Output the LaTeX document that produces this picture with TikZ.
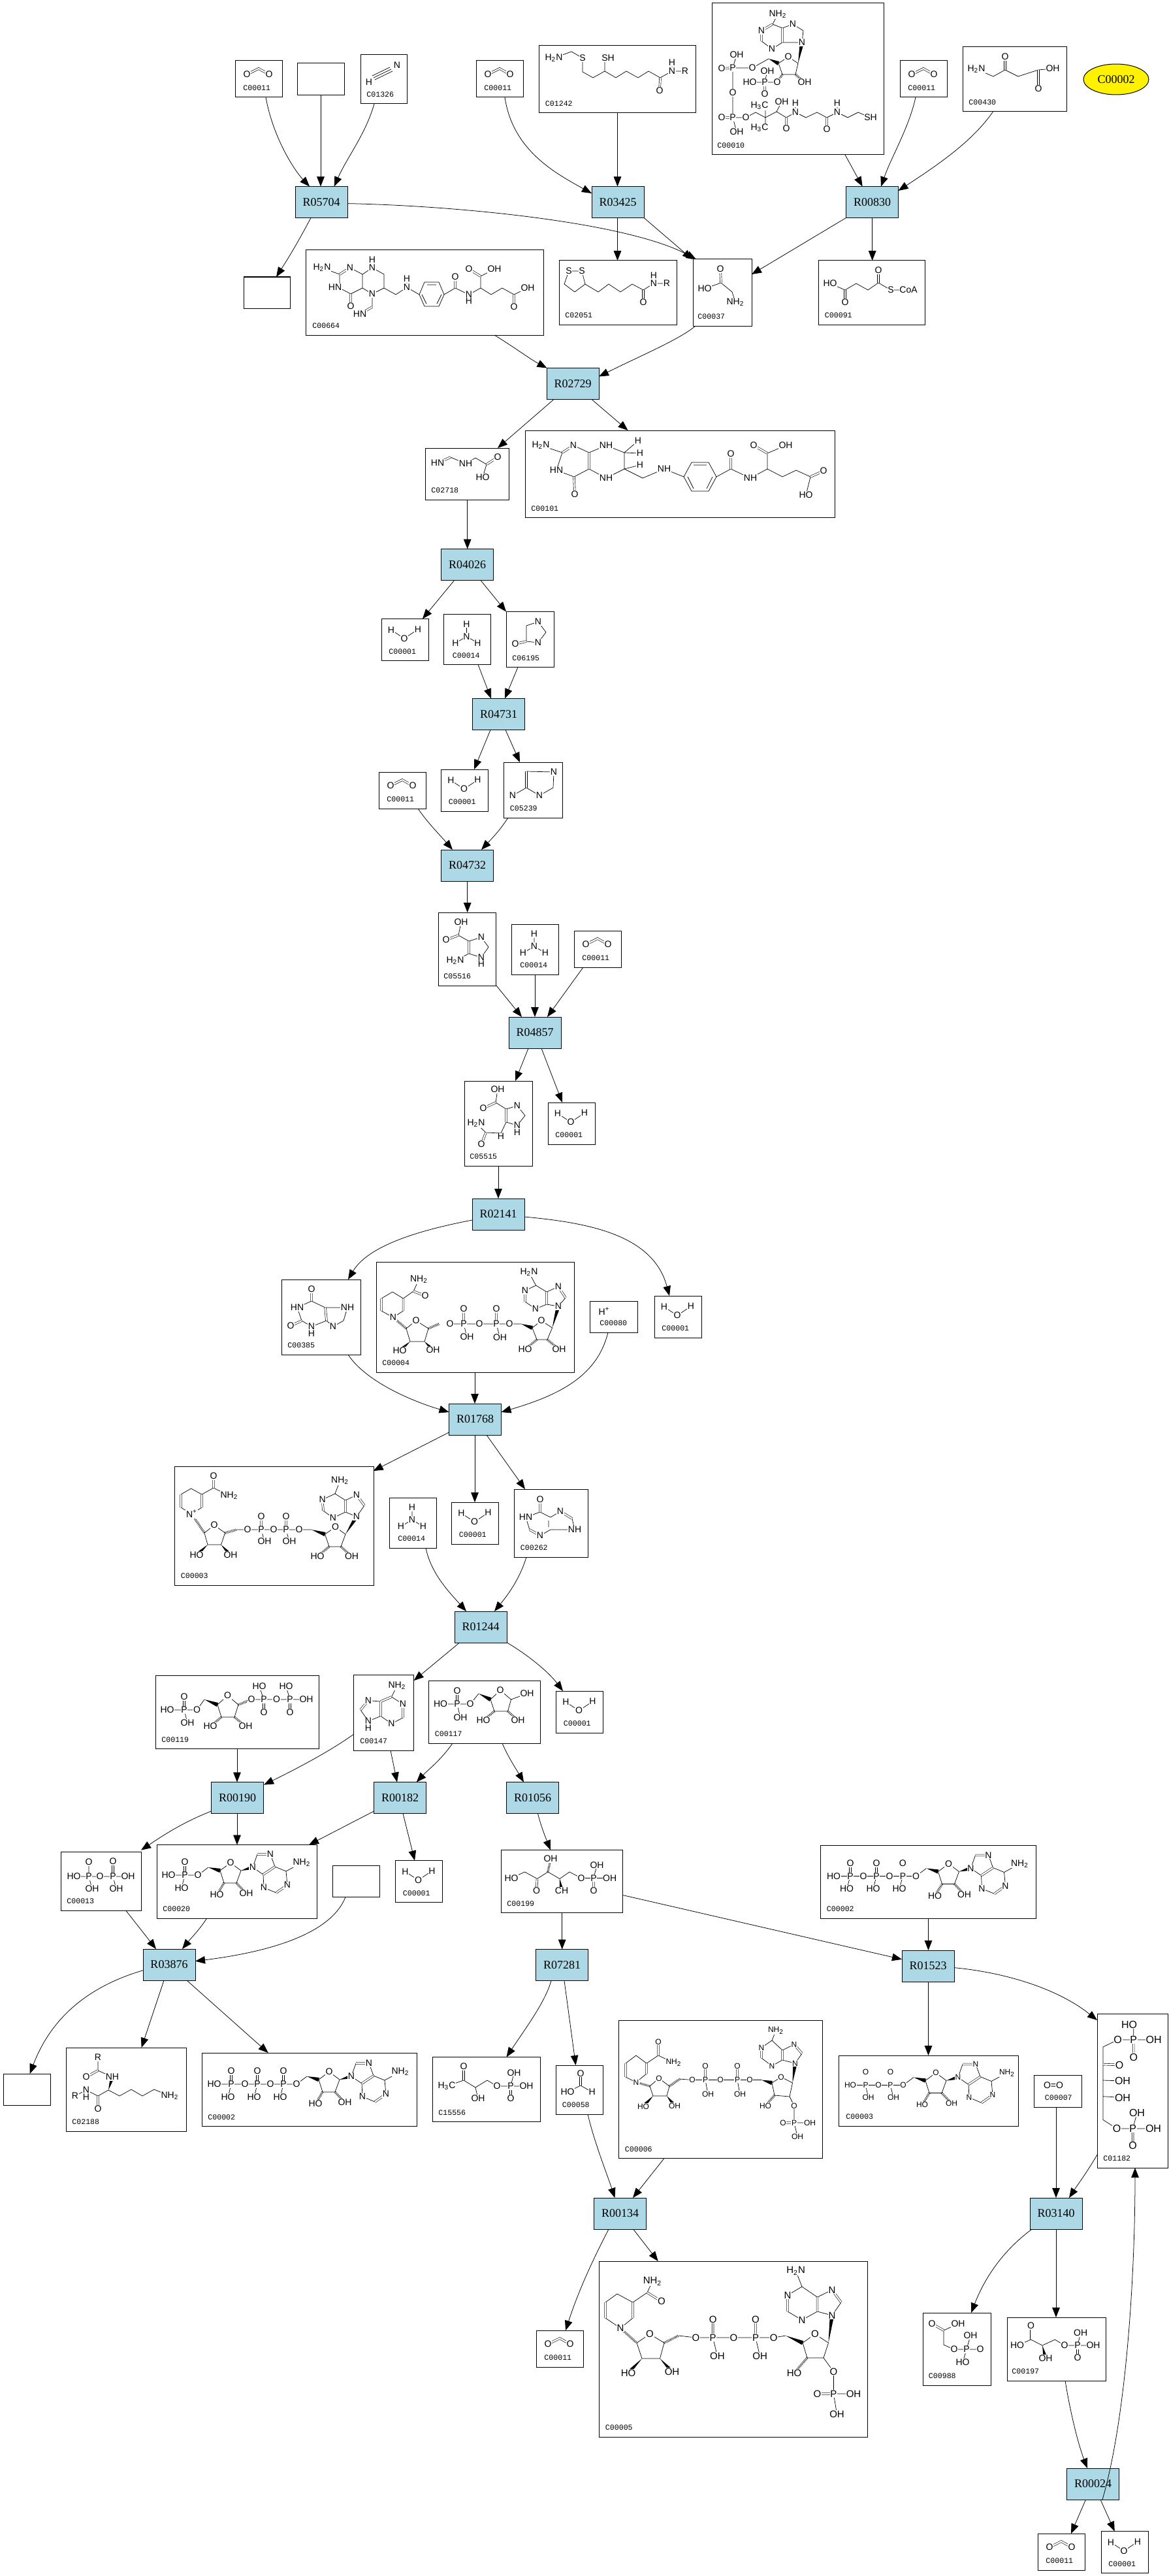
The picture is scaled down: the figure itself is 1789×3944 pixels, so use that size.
\documentclass[tikz,border=0pt]{standalone}
\usepackage{fontspec}
\setmainfont{Liberation Serif}
\setsansfont{Liberation Sans}
\setmonofont{Liberation Mono}
\usetikzlibrary{calc,arrows.meta,shapes.geometric}
\definecolor{rxblue}{HTML}{ADD8E6}
\newcommand\fs[1]{\fontsize{#1}{#1}\selectfont}
\newcommand\two{\textsubscript{2}}
\newcommand\three{\textsubscript{3}}
\newcount\atc
\tikzset{
 cmp/.style={draw=black,line width=.5pt,fill=white,rectangle,inner sep=0pt,outer sep=0pt},
 rxn/.style={draw=black,line width=.5pt,fill=rxblue,rectangle,inner sep=0pt,outer sep=0pt,minimum width=40pt,minimum height=24pt,font=\rmfamily\fs{9}},
 lab/.style={anchor=west,inner sep=0pt,font=\ttfamily\fs{5.8}},
 atom/.style={inner sep=.35pt,fill=white,font=\sffamily\fs{7}},
 bond/.style={draw=black,line width=.35pt},
 dbl/.style={draw=black,line width=.3pt,double=white,double distance=1.1pt},
 hashb/.style={draw=black,line width=1.8pt,dash pattern=on .35pt off .7pt},
 arr/.style={draw=black,line width=.38pt,-{Triangle[length=7.5pt,width=5.8pt]}},
}
\newcommand\A{}
\def\A(#1,#2)#3{\global\advance\atc by 1\relax\node[atom] (at\the\atc) at (#1,#2) {#3};}
\newcommand\W[2]{\fill[black] (#1) -- ($(#2)!1.6pt!90:(#1)$) -- ($(#2)!1.6pt!-90:(#1)$) -- cycle;}
\newcommand\Hs[2]{\draw[hashb] (#1)--(#2);}
\newcommand\rawbox[5]{%
 \pgfmathsetmacro\cw{(#4-(#2))*.5}\pgfmathsetmacro\ch{(#5-(#3))*.5}%
 \pgfmathsetmacro\cx{(#2+#4)/2}\pgfmathsetmacro\cy{(#3+#5)/2}%
 \node[cmp,minimum width=\cw pt,minimum height=\ch pt] (#1) at (\cx,\cy) {};}
\newcommand\cbox[7][9]{%
 \rawbox{#2}{#3}{#4}{#5}{#6}%
 \pgfmathsetmacro\lx{#3+#1}\pgfmathsetmacro\ly{#6-14}%
 \node[lab] (#2-l) at (\lx,\ly) {#7};}
\newcommand\rn[3]{\node[rxn] (#1) at (#2,#3) {#1};}
\newcommand\water[3]{%
 \pgfmathsetmacro\wx{#2+72}\pgfmathsetmacro\wy{#3+64}%
 \cbox[11]{#1}{#2}{#3}{\wx}{\wy}{C00001}%
 \begin{scope}[shift={(#2,#3)}]
 \draw[bond] (15,17)--(35,30)--(56,16);
 \A(15,17){H}\A(35,30){O}\A(56,16){H}
 \end{scope}}
\newcommand\cotwo[3]{%
 \pgfmathsetmacro\wx{#2+72}\pgfmathsetmacro\wy{#3+56}%
 \cbox[12]{#1}{#2}{#3}{\wx}{\wy}{C00011}%
 \begin{scope}[shift={(#2,#3)}]
 \draw[dbl] (18,21)--(36,12)--(52,21);
 \A(18,21){O}\A(52,21){O}
 \end{scope}}
\newcommand\ammonia[3]{%
 \pgfmathsetmacro\wx{#2+72}\pgfmathsetmacro\wy{#3+77}%
 \cbox[13]{#1}{#2}{#3}{\wx}{\wy}{C00014}%
 \begin{scope}[shift={(#2,#3)}]
 \draw[bond] (35,15)--(35,34) (18,44)--(35,34)--(52,44);
 \A(35,15){H}\A(35,34){N}\A(18,44){H}\A(52,44){H}
 \end{scope}}
\newcommand\ado[2]{%
 \begin{scope}[shift={(#1,#2)}]
 \draw[bond] (0,0)--(16,-12) (34,-7)--(50,-19)--(66,-7)--(59,12)--(40,12)--cycle;
 \W{16,-12}{34,-7}\W{66,-7}{84,-12}
 \Hs{40,12}{29,30}\Hs{59,12}{74,28}
 \draw[bond] (84,-12)--(91,-32) (111,-32)--(118,-13) (100,-1)--(84,-12) (118,-13)--(135,-6)--(137,15) (120,27)--(101,19) (101,19)--(100,-1) (135,-6)--(159,-19);
 \draw[dbl] (91,-32)--(111,-32) (118,-13)--(100,-1) (137,15)--(120,27);
 \A(0,0){O}\A(50,-19){O}\A(29,30){HO}\A(74,28){OH}\A(84,-12){N}\A(111,-32){N}\A(101,19){N}\A(137,15){N}\A(159,-19){NH\two}
 \end{scope}}
\begin{document}
\begin{tikzpicture}[x=.5pt,y=-.5pt]
\fill[white] (0,0) rectangle (1789,3944);
\useasboundingbox (0,0) rectangle (1789,3944);
% ---------- top row
\cotwo{ca}{360}{93}
\rawbox{bka}{455}{97}{527}{145.5}
\cbox{cb}{552}{84}{623}{159}{C01326}
\draw[bond] (599,106)--(572,119) (601,109)--(574,122) (597,103)--(570,116);
\A(608,100){N}\A(565,126){H}
\cotwo{cc}{729}{93}
\cbox{cd}{825.5}{69.5}{1065.5}{173}{C01242}
\draw[bond] (848,89)--(875,79)--(892,89)--(892,110)--(908,119)--(926,109)--(943,119)--(959,109)--(977,119)--(993,109)--(1011,119)--(1029,109)--(1049,109) (926,109)--(926,89) (1029,109)--(1029,96);
\draw[dbl] (1011,119)--(1010,139);
\A(848,89){H\two N}\A(892,89){S}\A(931,89){SH}\A(1029,109){N}\A(1029,96){H}\A(1049,109){R}\A(1010,139){O}
\cbox[8]{ce}{1090}{5}{1353}{237}{C00010}
\draw[bond] (1191,22)--(1183,37)--(1166,47) (1166,63)--(1182,75) (1198,65)--(1182,75) (1198,43)--(1183,37) (1198,65)--(1228,65) (1214,37)--(1198,43) (1214,37)--(1230,47)--(1228,65) (1207,87)--(1192,97)--(1198,114)--(1218,114)--(1222,97)--cycle;
\draw[dbl] (1183,37)--(1166,47) (1166,63)--(1166,47) (1198,65)--(1198,43);
\W{1222,97}{1228,65}\W{1177,90}{1192,97}
\draw[bond] (1177,90)--(1152,104)--(1122,104)--(1128,84) (1122,104)--(1122,142)--(1122,180)--(1128,202) (1122,180)--(1142,180)--(1157,172)--(1172,180)--(1189,171)--(1197,156) (1172,180)--(1172,162) (1172,180)--(1172,196) (1189,171)--(1204,180)--(1218,172)--(1234,180)--(1251,172)--(1266,180)--(1282,172)--(1298,180)--(1314,172)--(1333,180) (1218,172)--(1218,158) (1282,172)--(1282,158) (1171,126)--(1190,126) (1148,126)--(1171,126)--(1175,109);
\draw[dbl] (1105,105)--(1122,104) (1105,180)--(1122,180) (1204,180)--(1204,197) (1266,180)--(1266,198) (1171,126)--(1171,144);
\Hs{1198,114}{1190,126}\Hs{1218,114}{1232,126}
\A(1191,22){NH\two}\A(1166,47){N}\A(1182,75){N}\A(1214,37){N}\A(1228,65){N}\A(1207,87){O}\A(1152,104){O}\A(1122,104){P}\A(1128,84){OH}\A(1105,105){O}\A(1122,142){O}\A(1122,180){P}\A(1105,180){O}\A(1128,202){OH}\A(1142,180){O}\A(1163,162){H\three C}\A(1163,196){H\three C}\A(1197,156){OH}\A(1204,197){O}\A(1218,172){N}\A(1218,158){H}\A(1266,198){O}\A(1282,172){N}\A(1282,158){H}\A(1333,180){SH}\A(1190,126){O}\A(1171,126){P}\A(1148,126){HO}\A(1175,109){OH}\A(1171,144){O}\A(1232,126){OH}
\cotwo{cf}{1378}{93}
\cbox{cg}{1474}{72}{1633}{171}{C00430}
\draw[bond] (1495,106)--(1521,117)--(1539,107)--(1559,117)--(1590,107)--(1612,105);
\draw[dbl] (1539,107)--(1539,87) (1590,107)--(1590,136);
\A(1495,106){H\two N}\A(1539,87){O}\A(1612,105){OH}\A(1590,136){O}
\node[ellipse,draw=black,line width=.5pt,fill=yellow,inner sep=0pt,minimum width=50pt,minimum height=23.5pt,font=\rmfamily\fs{9}] (ell) at (1709,121.5) {C00002};
% ---------- reactions
\rn{R05704}{492}{309.5}\rn{R03425}{946}{309.5}\rn{R00830}{1335.5}{309.5}\rn{R02729}{877}{587.5}\rn{R04026}{715.5}{864.5}\rn{R04731}{763.5}{1093.5}\rn{R04732}{715.5}{1325}\rn{R04857}{819}{1581}\rn{R02141}{763}{1859}\rn{R01768}{727.5}{2173}\rn{R01244}{736}{2491}\rn{R00190}{363.5}{2752.5}\rn{R00182}{612.5}{2752.5}\rn{R01056}{815.5}{2752.5}\rn{R03876}{259}{3008}\rn{R07281}{860.5}{3008.5}\rn{R01523}{1421}{3010}\rn{R00134}{949.5}{3389}\rn{R03140}{1617}{3389}\rn{R00024}{1673.5}{3803}
% ---------- second row
\rawbox{bkb}{373}{424}{444}{472.5}
\cbox[10]{ch}{468}{383}{832}{513}{C00664}
\draw[bond] (493,410)--(520,420) (520,420)--(520,441)--(537,450)--(555,441) (536,410)--(555,420)--(570,410)--(588,420)--(588,441)--(570,450)--(555,441)--(555,420) (570,450)--(570,470) (588,441)--(606,451)--(623,440)--(642,451)--(650,432)--(672,432)--(680,451)--(672,469)--(650,469)--(642,451) (680,451)--(697,441)--(718,451)--(736,441)--(736,423)--(757,412) (736,441)--(752,451)--(769,441)--(787,451)--(808,441) (623,440)--(623,427) (718,451)--(718,461);
\draw[dbl] (520,420)--(536,410) (537,450)--(537,469) (570,470)--(551,481) (697,441)--(697,424) (736,423)--(718,412) (787,451)--(787,470);
\draw[bond] (654,436)--(668,436) (676,451)--(669,465) (653,465)--(646,451);
\A(493,410){H\two N}\A(536,410){N}\A(570,410){N}\A(570,398){H}\A(570,450){N}\A(513,440){HN}\A(537,469){O}\A(551,481){HN}\A(623,440){N}\A(623,427){H}\A(697,424){O}\A(718,451){N}\A(718,461){H}\A(718,412){O}\A(757,412){OH}\A(808,441){OH}\A(787,470){O}
\cbox{ci}{856}{399}{1036}{497}{C02051}
\draw[bond] (871,415)--(891,415)--(896,435)--(880,447)--(864,435)--cycle (896,435)--(916,447)--(932,435)--(950,447)--(968,435)--(985,444)--(1001,434)--(1021,434) (1001,434)--(1001,422);
\draw[dbl] (985,444)--(985,463);
\A(871,415){S}\A(891,415){S}\A(1001,434){N}\A(1001,422){H}\A(1021,434){R}\A(985,463){O}
\cbox[7]{cj}{1061}{397}{1151}{499}{C00037}
\draw[bond] (1079,442)--(1104,433)--(1121,447)--(1126,463);
\draw[dbl] (1104,433)--(1103,412);
\A(1079,442){HO}\A(1103,412){O}\A(1126,463){NH\two}
\cbox{ck}{1253.5}{399}{1416}{497}{C00091}
\draw[bond] (1271,434)--(1294,444)--(1311,434)--(1329,444)--(1345,433)--(1364,444)--(1391,444);
\draw[dbl] (1294,444)--(1294,463) (1345,433)--(1345,414);
\A(1271,434){HO}\A(1294,463){O}\A(1345,414){O}\A(1364,444){S}\A(1391,444){CoA}
% ---------- C02718 / C00101
\cbox{cm}{651}{686}{779}{765}{C02718}
\draw[dbl] (670,709)--(690,700);
\draw[bond] (690,700)--(713,710)--(728,701)--(745,711)--(739,731);
\draw[dbl] (745,711)--(762,700);
\A(670,709){HN}\A(713,710){NH}\A(762,700){O}\A(739,731){HO}
\cbox{cn}{804}{659}{1278}{792.5}{C00101}
\draw[bond] (828,682)--(861,693)--(852,720)--(879,730)--(902,718)--(928,732)--(956,718)--(956,693)--(928,682)--(902,693)--(878,682) (956,693)--(977,675) (956,693)--(980,694) (956,718)--(980,712) (956,718)--(984,732)--(1017,718)--(1047,730)--(1059,708)--(1085,708)--(1097,730)--(1085,752)--(1059,752)--(1047,730) (1097,730)--(1119,718)--(1149,732)--(1175,718)--(1198,730)--(1219,720)--(1241,730)--(1234,758) (1175,718)--(1175,694)--(1203,682);
\draw[dbl] (861,693)--(878,682) (902,693)--(902,718) (879,730)--(880,757) (1119,718)--(1119,695) (1175,694)--(1154,682) (1241,730)--(1261,721);
\draw[bond] (1062,712)--(1082,712) (1091,730)--(1082,748) (1062,748)--(1053,730);
\A(828,682){H\two N}\A(878,682){N}\A(928,682){NH}\A(977,675){H}\A(980,694){H}\A(980,712){H}\A(928,732){NH}\A(880,757){O}\A(852,720){HN}\A(1017,718){NH}\A(1119,695){O}\A(1149,732){NH}\A(1154,682){O}\A(1203,682){OH}\A(1261,721){O}\A(1234,758){HO}
% ---------- R04026 area
\water{da}{584}{947.5}
\ammonia{db}{679.5}{940.5}
\cbox{dc}{775}{936.5}{848}{1021.5}{C06195}
\draw[bond] (824,952)--(806,958)--(806,982)--(824,984)--(836,968)--cycle;
\draw[dbl] (806,982)--(789,986);
\A(824,952){N}\A(824,984){N}\A(789,986){O}
\cotwo{dd}{580}{1182}
\water{de}{675.5}{1178}
\cbox{df}{771.5}{1167}{861.5}{1252}{C05239}
\draw[bond] (806,1206)--(785,1218) (806,1181)--(848,1182)--(847,1206)--(826,1218)--(806,1206);
\draw[dbl] (806,1181)--(806,1206);
\A(848,1182){N}\A(785,1218){N}\A(826,1218){N}
% ---------- R04857 area
\cbox[8]{dg}{671}{1397}{759}{1509}{C05516}
\draw[bond] (706,1412)--(702,1432)--(718,1441)--(737,1435)--(748,1450)--(737,1466)--(718,1460)--(697,1471);
\draw[dbl] (702,1432)--(683,1439) (718,1441)--(718,1460);
\A(706,1412){OH}\A(683,1439){O}\A(737,1435){N}\A(737,1466){N}\A(737,1476){H}\A(697,1471){H\two N}
\ammonia{dh}{783}{1415}
\cotwo{di}{879}{1425}
\cbox[8]{dj}{711}{1655}{815}{1785}{C05515}
\draw[bond] (762,1668)--(759,1688)--(775,1698)--(792,1693)--(804,1708)--(792,1723)--(775,1718)--(767,1735)--(744,1734)--(729,1720);
\draw[dbl] (759,1688)--(740,1697) (775,1698)--(775,1718) (744,1734)--(737,1752);
\A(762,1668){OH}\A(740,1697){O}\A(792,1693){N}\A(792,1723){N}\A(792,1734){H}\A(767,1740){H}\A(729,1720){H\two N}\A(737,1752){O}
\water{dk}{839}{1688}
% ---------- R01768 area
\cbox{el}{431}{1959}{552}{2074}{C00385}
\draw[bond] (477,1992)--(455,2002)--(462,2022)--(477,2031)--(500,2022)--(510,2031)--(526,2022)--(532,2002)--(498,2002)--(477,1992);
\draw[dbl] (477,1992)--(477,1974) (462,2022)--(445,2030) (498,2002)--(500,2022);
\A(477,1974){O}\A(455,2002){HN}\A(445,2030){O}\A(477,2031){N}\A(477,2042){H}\A(532,2002){NH}\A(510,2031){N}
\cbox{em}{576}{1932}{879}{2101}{C00004}
\draw[bond] (641.5,1959)--(633,1977)--(617.5,1988)--(601,1978)--(584,1988) (584,2007)--(602,2017)--(617.5,2007) (622,2034)--(637,2022)--(656,2034)--(650,2054)--(628,2054)--cycle (689,2027)--(710,2027)--(734,2027)--(760,2027)--(780,2027)--(798,2027) (710,2027)--(715,2047) (760,2027)--(765.5,2048) (815,2033)--(829,2022)--(845.6,2033)--(838,2051)--(822,2051)--cycle (855,2000)--(866,1987) (855,1970)--(837,1978)--(820.6,1968)--(804,1976) (804,1993)--(820,2004)--(837,1997)--(855,2000) (820.6,1968)--(810,1948);
\draw[dbl] (633,1977)--(651,1984) (617.5,1988)--(617.5,2007) (584,1988)--(584,2007) (710,2027)--(710,2004) (760,2027)--(760,2004) (866,1987)--(855,1970) (837,1978)--(837,1997) (804,1976)--(804,1993);
\Hs{602,2017}{622,2034}\Hs{656,2034}{672,2027}
\W{798,2027}{815,2033}\W{845.6,2033}{855,2000}
\W{628,2054}{612,2068}\W{650,2054}{663,2067}
\Hs{822,2051}{804,2066}\Hs{838,2051}{856,2066}
\A(641.5,1959){NH\two}\A(651,1984){O}\A(602,2017){N}\A(637,2022){O}\A(612,2068){HO}\A(663,2067){OH}\A(689,2027){O}\A(710,2027){P}\A(710,2004){O}\A(715,2047){OH}\A(734,2027){O}\A(760,2027){P}\A(760,2004){O}\A(765.5,2048){OH}\A(780,2027){O}\A(829,2022){O}\A(804,2066){HO}\A(856,2066){OH}\A(855,2000){N}\A(855,1970){N}\A(820,2004){N}\A(804,1976){N}\A(810,1948){H\two N}
\cbox[15]{eo}{903}{1992}{976}{2040}{C00080}
\A(925,2008){H\textsuperscript{+}}
\water{ep}{1002}{1984}
\cbox{eq}{267.5}{2245}{572}{2427}{C00003}
\draw[bond] (351,2290)--(327,2278)--(309,2288)--(292.5,2279)--(277,2288) (277,2308)--(293.6,2318)--(309,2308) (313,2347)--(328,2335)--(344.6,2347)--(338.5,2365)--(318,2365)--cycle (362,2342)--(379,2342)--(400,2342)--(419,2342)--(438,2342)--(458,2342)--(477,2342) (400,2342)--(405,2360) (438,2342)--(443,2360) (497.6,2349)--(513.5,2338)--(529,2349)--(522,2368)--(504,2368)--cycle (546,2322)--(558,2305) (546,2289)--(529,2297)--(513,2287)--(493.6,2296) (495,2313)--(510,2324)--(529,2315)--(546,2322) (513,2287)--(520.6,2267);
\draw[dbl] (327,2278)--(327,2260) (309,2288)--(309,2308) (277,2288)--(277,2308) (400,2342)--(400,2322) (438,2342)--(438,2322) (558,2305)--(546,2289) (529,2297)--(529,2315) (493.6,2296)--(495,2313);
\Hs{293.6,2318}{313,2347}\Hs{344.6,2347}{362,2342}
\W{477,2342}{497.6,2349}\W{529,2349}{546,2322}
\W{318,2365}{301,2381}\W{338.5,2365}{353,2381}
\Hs{504,2368}{486,2383}\Hs{522,2368}{538.5,2383}
\A(351,2290){NH\two}\A(327,2260){O}\A(293.6,2318){N\textsuperscript{+}}\A(328,2335){O}\A(301,2381){HO}\A(353,2381){OH}\A(379,2342){O}\A(400,2342){P}\A(400,2322){O}\A(405,2360){OH}\A(419,2342){O}\A(438,2342){P}\A(438,2322){O}\A(443,2360){OH}\A(458,2342){O}\A(513.5,2338){O}\A(486,2383){HO}\A(538.5,2383){OH}\A(546,2322){N}\A(546,2289){N}\A(510,2324){N}\A(493.6,2296){N}\A(520.6,2267){NH\two}
\ammonia{er}{596}{2293}
\water{es}{691.5}{2300}
\cbox{et}{787.5}{2280}{900}{2384}{C00262}
\draw[bond] (805,2323)--(827,2315)--(843,2323)--(858,2314) (805,2323)--(811,2342) (827,2351)--(843,2342)--(880,2342) (876,2325)--(880,2342) (840,2328)--(840,2338);
\draw[dbl] (827,2315)--(827,2296) (811,2342)--(827,2351) (858,2314)--(876,2325);
\A(827,2296){O}\A(805,2323){HN}\A(827,2351){N}\A(858,2314){N}\A(880,2342){NH}
% ---------- R01244 area
\cbox{fa}{238}{2565}{488}{2677.5}{C00119}
\draw[bond] (256,2618)--(282,2618)--(301.5,2618)--(313,2602) (282,2618)--(287,2638) (333,2610)--(348.5,2596)--(365,2610)--(359,2629)--(339,2629)--cycle (385,2602)--(404,2602)--(423.5,2602)--(444,2602)--(469,2602) (404,2602)--(397,2582) (444,2602)--(438,2582);
\draw[dbl] (282,2618)--(282,2598) (404,2602)--(404,2622) (444,2602)--(444,2622);
\W{313,2602}{333,2610}\Hs{339,2629}{322,2643}\Hs{359,2629}{376,2643}\Hs{365,2610}{385,2602}
\A(256,2618){HO}\A(282,2618){P}\A(282,2598){O}\A(287,2638){OH}\A(301.5,2618){O}\A(348.5,2596){O}\A(322,2643){HO}\A(376,2643){OH}\A(385,2602){O}\A(404,2602){P}\A(397,2582){HO}\A(404,2622){O}\A(423.5,2602){O}\A(444,2602){P}\A(438,2582){HO}\A(444,2622){O}\A(469,2602){OH}
\cbox[10]{fb}{541}{2564}{633}{2680}{C00147}
\draw[bond] (608,2581)--(599.5,2598) (599.5,2598)--(617,2609) (617,2630)--(599.5,2639)--(583,2627.5)--(564,2635)--(552,2618) (564,2603.6)--(583,2605);
\draw[dbl] (617,2609)--(617,2630) (583,2605)--(599.5,2598) (583,2605)--(583,2627.5) (552,2618)--(564,2603.6);
\A(608,2581){NH\two}\A(617,2609){N}\A(599.5,2639){N}\A(564,2603.6){N}\A(564,2635){N}\A(564,2646){H}
\cbox{fc}{656.5}{2573.5}{827.5}{2669}{C00117}
\draw[bond] (674.5,2609)--(700,2609)--(720,2609)--(733,2593) (700,2609)--(705,2630) (751,2602)--(766,2588)--(782.6,2602)--(777.5,2620)--(757,2620)--cycle (782.6,2602)--(807,2593);
\draw[dbl] (700,2609)--(700,2589);
\W{733,2593}{751,2602}\Hs{757,2620}{740,2634}\Hs{777.5,2620}{793,2634}
\A(674.5,2609){HO}\A(700,2609){P}\A(700,2589){O}\A(705,2630){OH}\A(720,2609){O}\A(766,2588){O}\A(740,2634){HO}\A(793,2634){OH}\A(807,2593){OH}
\water{fd}{851.5}{2589}
% ---------- R00190 / R00182 area
\cbox{fe}{93}{2835}{216}{2925}{C00013}
\draw[bond] (113,2873)--(136,2873)--(153,2873)--(173,2873)--(196,2873) (136,2873)--(136,2851) (136,2873)--(141,2892) (173,2873)--(178,2892);
\draw[dbl] (173,2873)--(173,2850);
\A(113,2873){HO}\A(136,2873){P}\A(136,2851){O}\A(141,2892){OH}\A(153,2873){O}\A(173,2873){P}\A(173,2850){O}\A(178,2892){OH}\A(196,2873){OH}
\cbox{ff}{240}{2824.5}{485.5}{2937}{C00020}
\draw[bond] (258,2871)--(283,2871)--(303,2871) (283,2871)--(278,2891);
\draw[dbl] (283,2871)--(283,2851);
\A(258,2871){HO}\A(283,2871){P}\A(283,2851){O}\A(278,2891){HO}
\ado{303}{2871}
\rawbox{bkc}{509.5}{2856.5}{581.5}{2904.5}
\water{fg}{605.5}{2848.5}
\cbox{fh}{767}{2832.5}{953.5}{2928.5}{C00199}
\draw[bond] (783,2875.5)--(803.5,2866)--(822.5,2876.5)--(839,2866)--(857,2876.5)--(872,2866)--(890,2875.5)--(909,2875.5)--(933.7,2875.5) (909,2875.5)--(914,2855.6);
\draw[dbl] (822.5,2876.5)--(821.5,2895) (909,2875.5)--(909,2895);
\Hs{839,2866}{843,2846}\W{857,2876.5}{860,2895}
\A(783,2875.5){HO}\A(821.5,2895){O}\A(843,2846){OH}\A(860,2895){CH}\A(890,2875.5){O}\A(909,2875.5){P}\A(914,2855.6){OH}\A(933.7,2875.5){OH}\A(909,2895){O}
\cbox[9]{fi}{1256.5}{2825}{1586.5}{2937}{C00002}
\draw[bond] (1276.6,2872.5)--(1302,2872.5)--(1322,2872.5)--(1342,2872.5)--(1362,2872.5)--(1382.4,2872.5)--(1402.5,2872.5) (1302,2872.5)--(1296.6,2892) (1342,2872.5)--(1337,2892) (1382.4,2872.5)--(1377,2892);
\draw[dbl] (1302,2872.5)--(1302,2853) (1342,2872.5)--(1342,2853) (1382.4,2872.5)--(1382.4,2853);
\A(1276.6,2872.5){HO}\A(1302,2872.5){P}\A(1302,2853){O}\A(1296.6,2892){HO}\A(1322,2872.5){O}\A(1342,2872.5){P}\A(1342,2853){O}\A(1337,2892){HO}\A(1362,2872.5){O}\A(1382.4,2872.5){P}\A(1382.4,2853){O}\A(1377,2892){HO}
\ado{1402.5}{2872.5}
% ---------- R03876 products
\rawbox{bkd}{5}{3175}{77}{3223}
\cbox{ga}{101}{3135}{285}{3263}{C02188}
\draw[bond] (150,3150)--(150,3170)--(172,3180) (166,3200)--(150,3209)--(132,3200) (132,3200)--(115,3209) (166,3200)--(183,3209)--(201,3199)--(218,3209)--(236,3199)--(260,3209);
\draw[dbl] (150,3170)--(132,3180) (150,3209)--(150,3229);
\W{166,3200}{172,3180}
\A(150,3150){R}\A(132,3180){O}\A(172,3180){NH}\A(150,3229){O}\A(132,3200){N}\A(132,3211){H}\A(115,3209){R}\A(260,3209){NH\two}
\cbox{gb}{309}{3143}{638}{3255.5}{C00002}
\draw[bond] (328,3191)--(354,3191)--(375,3191)--(394,3191)--(414,3191)--(434,3191)--(454,3191) (354,3191)--(349,3211) (394,3191)--(389,3211) (434,3191)--(429,3211);
\draw[dbl] (354,3191)--(354,3171) (394,3191)--(394,3171) (434,3191)--(434,3171);
\A(328,3191){HO}\A(354,3191){P}\A(354,3171){O}\A(349,3211){HO}\A(375,3191){O}\A(394,3191){P}\A(394,3171){O}\A(389,3211){HO}\A(414,3191){O}\A(434,3191){P}\A(434,3171){O}\A(429,3211){HO}
\ado{454}{3191}
\cbox{gc}{662}{3149.5}{827.5}{3248.5}{C15556}
\draw[bond] (684,3194)--(710,3185)--(728,3196)--(746,3185)--(761,3194)--(782,3194)--(806,3194) (728,3196)--(732,3213) (782,3194)--(787,3173.5);
\draw[dbl] (710,3185)--(710,3164) (782,3194)--(782,3213);
\A(684,3194){H\three C}\A(710,3164){O}\A(732,3213){OH}\A(761,3194){O}\A(782,3194){P}\A(787,3173.5){OH}\A(806,3194){OH}\A(782,3213){O}
\cbox{gd}{851.5}{3162}{923.5}{3237}{C00058}
\draw[bond] (869,3203)--(889,3193)--(906.6,3203);
\draw[dbl] (889,3193)--(889,3174.5);
\A(889,3174.5){O}\A(869,3203){HO}\A(906.6,3203){H}
\begin{scope}[atom/.append style={font=\sffamily\fs{6}}]
\cbox{ge}{947.5}{3093}{1259.5}{3304.5}{C00006}
\draw[bond] (1031.5,3158)--(1008,3147)--(990,3159)--(974,3147)--(958,3159) (958,3180)--(974,3188)--(990,3175) (995,3194)--(1009,3182)--(1025,3194)--(1021,3209)--(1000,3209)--cycle (1041,3183)--(1060,3184.5)--(1080,3184.5)--(1103,3184.5)--(1129,3184.5)--(1148,3184.5)--(1166,3184.5) (1080,3184.5)--(1084,3206) (1129,3184.5)--(1133,3206) (1182,3189)--(1196,3180)--(1213.5,3189)--(1209,3210)--(1186,3208)--cycle (1209,3210)--(1216,3224)--(1216,3250)--(1240,3250) (1216,3250)--(1221,3271) (1217.5,3159)--(1228,3144) (1216,3130)--(1198,3139)--(1182,3124)--(1166,3135) (1166,3151)--(1182,3163)--(1198,3154)--(1217.5,3159) (1182,3124)--(1188,3109);
\draw[dbl] (1008,3147)--(1008,3126) (990,3159)--(990,3175) (958,3159)--(958,3180) (1080,3184.5)--(1080,3163.5) (1129,3184.5)--(1129,3163.5) (1216,3250)--(1199,3250) (1228,3144)--(1216,3130) (1198,3139)--(1198,3154) (1166,3135)--(1166,3151);
\Hs{974,3188}{995,3194}\Hs{1025,3194}{1041,3183}\W{1000,3209}{985,3225}\W{1021,3209}{1033,3224}\W{1166,3184.5}{1182,3189}\W{1213.5,3189}{1217.5,3159}\Hs{1186,3208}{1172,3224}
\A(1031.5,3158){NH\two}\A(1008,3126){O}\A(974,3188){N}\A(1009,3182){O}\A(985,3225){HO}\A(1033,3224){OH}\A(1060,3184.5){O}\A(1080,3184.5){P}\A(1080,3163.5){O}\A(1084,3206){OH}\A(1103,3184.5){O}\A(1129,3184.5){P}\A(1129,3163.5){O}\A(1133,3206){OH}\A(1148,3184.5){O}\A(1196,3180){O}\A(1172,3224){HO}\A(1216,3224){O}\A(1216,3250){P}\A(1199,3250){O}\A(1240,3250){OH}\A(1221,3271){OH}\A(1217.5,3159){N}\A(1216,3130){N}\A(1182,3163){N}\A(1166,3135){N}\A(1188,3109){NH\two}
\end{scope}
% ---------- bottom
\cotwo{ha}{821}{3568}
\begin{scope}[atom/.append style={font=\sffamily\fs{7.5}}]
\cbox{hb}{917.5}{3462}{1328.5}{3731}{C00005}
\draw[bond] (999,3493)--(991,3510)--(969,3525)--(945,3512)--(927,3525) (927,3549)--(950,3564.5)--(969,3549) (975,3587)--(995,3573.6)--(1017,3587)--(1010.5,3611)--(983,3611)--cycle (1039,3576)--(1065.5,3579)--(1091.6,3579)--(1123.4,3579)--(1157,3579)--(1184.6,3579)--(1203,3576) (1091.6,3579)--(1098.4,3607) (1157,3579)--(1163.6,3607.5) (1229,3587)--(1248,3573.6)--(1268.5,3587)--(1261,3610)--(1236,3610)--cycle (1261,3610)--(1276.4,3631)--(1276.4,3665)--(1307,3665) (1276.4,3665)--(1281.5,3696) (1274,3545)--(1288,3525) (1274,3506)--(1251.5,3517)--(1228,3501)--(1206,3514) (1206,3539)--(1228,3552)--(1251.5,3539)--(1274,3545) (1228,3501)--(1218.6,3477);
\draw[dbl] (991,3510)--(1013,3523.6) (969,3525)--(969,3549) (927,3525)--(927,3549) (1091.6,3579)--(1091.6,3551) (1157,3579)--(1157,3551) (1276.4,3665)--(1251.5,3665) (1288,3525)--(1274,3506) (1251.5,3517)--(1251.5,3539) (1206,3514)--(1206,3539);
\Hs{950,3564.5}{975,3587}\Hs{1017,3587}{1039,3576}\W{983,3611}{962,3633}\W{1010.5,3611}{1029,3631}\W{1203,3576}{1229,3587}\W{1268.5,3587}{1274,3545}\Hs{1236,3610}{1216,3633}
\A(999,3493){NH\two}\A(1013,3523.6){O}\A(950,3564.5){N}\A(995,3573.6){O}\A(962,3633){HO}\A(1029,3631){OH}\A(1065.5,3579){O}\A(1091.6,3579){P}\A(1091.6,3551){O}\A(1098.4,3607){OH}\A(1123.4,3579){O}\A(1157,3579){P}\A(1157,3551){O}\A(1163.6,3607.5){OH}\A(1184.6,3579){O}\A(1248,3573.6){O}\A(1216,3633){HO}\A(1276.4,3631){O}\A(1276.4,3665){P}\A(1251.5,3665){O}\A(1307,3665){OH}\A(1281.5,3696){OH}\A(1274,3545){N}\A(1274,3506){N}\A(1228,3552){N}\A(1206,3514){N}\A(1218.6,3477){H\two N}
\end{scope}
\begin{scope}[atom/.append style={font=\sffamily\fs{6}}]
\cbox[11]{hc}{1284}{3147}{1559}{3255}{C00003}
\draw[bond] (1302,3192.5)--(1325.5,3192.5)--(1345,3192.5)--(1363.4,3192.5)--(1383,3192.5) (1325.5,3192.5)--(1329.5,3211.5) (1363.4,3192.5)--(1368,3211.5);
\draw[dbl] (1325.5,3192.5)--(1325.5,3172.5) (1363.4,3192.5)--(1363.4,3172.5);
\A(1302,3192.5){HO}\A(1325.5,3192.5){P}\A(1325.5,3172.5){O}\A(1329.5,3211.5){OH}\A(1345,3192.5){O}\A(1363.4,3192.5){P}\A(1363.4,3172.5){O}\A(1368,3211.5){OH}
\ado{1383}{3192.5}
\end{scope}
\cbox[16]{hd}{1583.5}{3177.5}{1656}{3226}{C00007}
\A(1613,3192.5){O=O}
\begin{scope}[atom/.append style={font=\sffamily\fs{8}}]
\cbox{he}{1680}{3083}{1788}{3319}{C01182}
\draw[bond] (1735.7,3123)--(1735.7,3105) (1711.6,3123)--(1735.7,3123)--(1766.7,3123) (1711.6,3123)--(1689,3134)--(1689,3245.5)--(1710,3259)--(1734.6,3259)--(1766,3259) (1689,3185)--(1719,3186) (1689,3209.7)--(1719,3211.5) (1734.6,3259)--(1741,3235);
\draw[dbl] (1735.7,3123)--(1735.7,3149.5) (1689,3160.5)--(1714,3161.5) (1734.6,3259)--(1734.6,3285);
\A(1729,3099.5){HO}\A(1711.6,3123){O}\A(1735.7,3123){P}\A(1766.7,3123){OH}\A(1735.7,3149.5){O}\A(1714,3161.5){O}\A(1719,3186){OH}\A(1719,3211.5){OH}\A(1710,3259){O}\A(1734.6,3259){P}\A(1741,3235){OH}\A(1766,3259){OH}\A(1734.6,3285){O}
\end{scope}
\cbox[8]{hf}{1413.5}{3541}{1517}{3652}{C00988}
\draw[bond] (1467,3557.5)--(1445,3568)--(1445,3590)--(1461,3597)--(1480,3597)--(1501,3597) (1480,3597)--(1486,3576) (1480,3597)--(1474,3617);
\draw[dbl] (1445,3568)--(1427,3557.5);
\A(1427,3557.5){O}\A(1467,3557.5){OH}\A(1461,3597){O}\A(1480,3597){P}\A(1486,3576){OH}\A(1501,3597){O}\A(1474,3617){HO}
\cbox[7]{hg}{1542}{3548}{1693}{3645}{C00197}
\draw[bond] (1557.6,3591)--(1578.6,3582)--(1596,3591)--(1615.4,3582)--(1630,3591)--(1650,3591)--(1674,3591) (1650,3591)--(1654.6,3572);
\draw[dbl] (1578.6,3582)--(1578.6,3561) (1650,3591)--(1650,3610);
\W{1596,3591}{1601,3611}
\A(1557.6,3591){HO}\A(1578.6,3561){O}\A(1601,3611){OH}\A(1630,3591){O}\A(1650,3591){P}\A(1654.6,3572){OH}\A(1674,3591){OH}\A(1650,3610){O}
\cotwo{hh}{1589}{3879}
\water{hi}{1686}{3875.5}
% ---------- connectors
\draw[arr] (407,0|-ca.south) .. controls (418,210) and (450,260) .. (474,0|-R05704.north);
\draw[arr] (bka.south) -- (491,0|-R05704.north);
\draw[arr] (573,0|-cb.south) .. controls (560,205) and (532,240) .. (511.6,0|-R05704.north);
\draw[arr] (773,0|-cc.south) .. controls (785,230) and (850,265) .. (R03425.west|-0,296);
\draw[arr] (945.5,0|-cd.south) -- (945.5,0|-R03425.north);
\draw[arr] (1294,0|-ce.south) -- (1320.6,0|-R00830.north);
\draw[arr] (1402,0|-cf.south) .. controls (1392,195) and (1365,240) .. (1349,0|-R00830.north);
\draw[arr] (1520.5,0|-cg.south) .. controls (1490,215) and (1440,250) .. (R00830.east|-0,292);
\draw[arr] (476,0|-R05704.south) .. controls (462,360) and (448,385) .. (423,0|-bkb.north);
\draw[arr] (R05704.east|-0,311.6) .. controls (700,315) and (960,340) .. (1066,0|-cj.north);
\draw[arr] (945.5,0|-R03425.south) -- (945.5,0|-ci.north);
\draw[arr] (R03425.east|-0,333.5) -- (1060,0|-cj.north);
\draw[arr] (1295.5,0|-R00830.south) -- (cj.east|-0,420);
\draw[arr] (1335.7,0|-R00830.south) -- (1335.7,0|-ck.north);
\draw[arr] (757,0|-ch.south) .. controls (785,530) and (812,550) .. (837.5,0|-R02729.north);
\draw[arr] (1065,0|-cj.south) .. controls (1040,520) and (980,545) .. (R02729.east|-0,576.5);
\draw[arr] (848,0|-R02729.south) -- (762,0|-cm.north);
\draw[arr] (906,0|-R02729.south) -- (961.5,0|-cn.north);
\draw[arr] (715.7,0|-cm.south) -- (715.7,0|-R04026.north);
\draw[arr] (695.6,0|-R04026.south) -- (647,0|-da.north);
\draw[arr] (736,0|-R04026.south) -- (775,0|-dc.north);
\draw[arr] (732,0|-db.south) -- (752,0|-R04731.north);
\draw[arr] (793,0|-dc.south) -- (773,0|-R04731.north);
\draw[arr] (751,0|-R04731.south) -- (726,0|-de.north);
\draw[arr] (774,0|-R04731.south) -- (796,0|-df.north);
\draw[arr] (640,0|-dd.south) .. controls (655,1260) and (675,1280) .. (693,0|-R04732.north);
\draw[arr] (778,0|-df.south) .. controls (765,1272) and (752,1285) .. (737,0|-R04732.north);
\draw[arr] (715.7,0|-R04732.south) -- (715.7,0|-dg.north);
\draw[arr] (760,0|-dg.south) -- (799,0|-R04857.north);
\draw[arr] (819,0|-dh.south) -- (819,0|-R04857.north);
\draw[arr] (893,0|-di.south) -- (838,0|-R04857.north);
\draw[arr] (809,0|-R04857.south) -- (789,0|-dj.north);
\draw[arr] (829,0|-R04857.south) -- (861,0|-dk.north);
\draw[arr] (763,0|-dj.south) -- (763,0|-R02141.north);
\draw[arr] (R02141.west|-0,1868) .. controls (650,1882) and (565,1905) .. (533,0|-el.north);
\draw[arr] (R02141.east|-0,1863) .. controls (900,1872) and (1000,1890) .. (1025,0|-ep.north);
\draw[arr] (533,0|-el.south) .. controls (560,2115) and (630,2145) .. (R01768.west|-0,2162);
\draw[arr] (727,0|-em.south) -- (727,0|-R01768.north);
\draw[arr] (931,0|-eo.south) .. controls (915,2105) and (860,2135) .. (R01768.east|-0,2162);
\draw[arr] (R01768.west|-0,2193) -- (571.6,2252);
\draw[arr] (727,0|-R01768.south) -- (727,0|-es.north);
\draw[arr] (745,0|-R01768.south) -- (804,0|-et.north);
\draw[arr] (652,0|-er.south) .. controls (660,2410) and (690,2440) .. (714,0|-R01244.north);
\draw[arr] (806,0|-et.south) .. controls (795,2420) and (775,2445) .. (757,0|-R01244.north);
\draw[arr] (703.6,0|-R01244.south) -- (633.7,2573);
\draw[arr] (776.5,0|-R01244.south) .. controls (810,2535) and (840,2560) .. (862,0|-fd.north);
\draw[arr] (363,0|-fa.south) -- (363,0|-R00190.north);
\draw[arr] (fb.west|-0,2655.6) .. controls (500,2685) and (440,2715) .. (404,2732.6);
\draw[arr] (598,0|-fb.south) -- (608,0|-R00182.north);
\draw[arr] (693,0|-fc.south) .. controls (675,2695) and (655,2710) .. (637.8,0|-R00182.north);
\draw[arr] (769,0|-fc.south) .. controls (778,2690) and (790,2708) .. (802,0|-R01056.north);
\draw[arr] (R00190.west|-0,2773) .. controls (280,2790) and (250,2810) .. (216,2832.6);
\draw[arr] (363,0|-R00190.south) -- (363,0|-ff.north);
\draw[arr] (R00182.west|-0,2773) .. controls (530,2795) and (505,2808) .. (473,0|-ff.north);
\draw[arr] (617,0|-R00182.south) -- (635,0|-fg.north);
\draw[arr] (823.5,0|-R01056.south) .. controls (828,2795) and (836,2815) .. (843,0|-fh.north);
\draw[arr] (192.7,0|-fe.south) -- (239,0|-R03876.north);
\draw[arr] (316.7,0|-ff.south) .. controls (305,2955) and (292,2968) .. (279,0|-R03876.north);
\draw[arr] (529,0|-bkc.south) .. controls (505,2965) and (400,2990) .. (R03876.east|-0,3002.6);
\draw[arr] (860.7,0|-fh.south) -- (860.7,0|-R07281.north);
\draw[arr] (fh.east|-0,2901.5) -- (R01523.west|-0,2999.8);
\draw[arr] (R03876.west|-0,3016.7) .. controls (140,3040) and (80,3085) .. (45.7,0|-bkd.north);
\draw[arr] (251,0|-R03876.south) -- (216.7,0|-ga.north);
\draw[arr] (286,0|-R03876.south) -- (410.7,0|-gb.north);
\draw[arr] (844,0|-R07281.south) .. controls (835,3065) and (805,3105) .. (775.5,0|-gc.north);
\draw[arr] (864,0|-R07281.south) -- (881.6,0|-gd.north);
\draw[arr] (900,0|-gd.south) .. controls (910,3280) and (930,3330) .. (941.4,0|-R00134.north);
\draw[arr] (1017,0|-ge.south) -- (969,0|-R00134.north);
\draw[arr] (932,0|-R00134.south) .. controls (905,3465) and (885,3510) .. (866,0|-ha.north);
\draw[arr] (969.7,0|-R00134.south) -- (1007.7,0|-hb.north);
\draw[arr] (1421.5,0|-fi.south) -- (1421.5,0|-R01523.north);
\draw[arr] (1421.5,0|-R01523.south) -- (1421.5,0|-hc.north);
\draw[arr] (R01523.east|-0,3012.6) .. controls (1540,3020) and (1620,3045) .. (he.west|-0,3093);
\draw[arr] (1617,0|-hd.south) -- (1617,0|-R03140.north);
\draw[arr] (he.west|-0,3299) .. controls (1665,3325) and (1650,3345) .. (1637,0|-R03140.north);
\draw[arr] (1580,0|-R03140.south) .. controls (1530,3450) and (1505,3495) .. (1487,0|-hf.north);
\draw[arr] (1617,0|-R03140.south) -- (1617,0|-hg.north);
\draw[arr] (1631,0|-hg.south) .. controls (1640,3700) and (1652,3745) .. (1665,0|-R00024.north);
\draw[arr] (1688,0|-R00024.south) .. controls (1725,3700) and (1738,3480) .. (1738,0|-he.south);
\draw[arr] (1662.5,0|-R00024.south) -- (1640,0|-hh.north);
\draw[arr] (1685,0|-R00024.south) -- (1706.7,0|-hi.north);
\end{tikzpicture}
\end{document}
